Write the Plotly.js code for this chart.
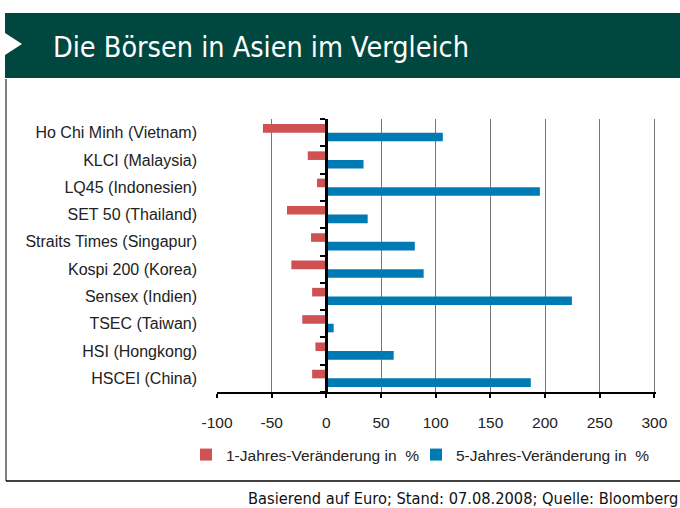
<!DOCTYPE html>
<html>
<head>
<meta charset="utf-8">
<script src="https://cdn.plot.ly/plotly-3.0.1.min.js"></script>
<style>html,body{margin:0;padding:0;background:#fff;}#chart{width:680px;height:508px;}</style>
</head>
<body>
<div id="chart"></div>
<script>
const categories = [
  "Ho Chi Minh (Vietnam)",
  "KLCI (Malaysia)",
  "LQ45 (Indonesien)",
  "SET 50 (Thailand)",
  "Straits Times (Singapur)",
  "Kospi 200 (Korea)",
  "Sensex (Indien)",
  "TSEC (Taiwan)",
  "HSI (Hongkong)",
  "HSCEI (China)"
];
const change1y = [-58, -17, -8.5, -36, -14, -32, -13, -22, -10, -13];
const change5y = [106.5, 34, 195.3, 37.8, 80.9, 89, 224.6, 6.7, 61.6, 187];
const seriesNames = ["1-Jahres-Veränderung in  %", "5-Jahres-Veränderung in  %"];
const xTicks = [-100, -50, 0, 50, 100, 150, 200, 250, 300];
const titleText = "Die Börsen in Asien im Vergleich";
const footerText = "Basierend auf Euro; Stand: 07.08.2008; Quelle: Bloomberg";

const W = 680, H = 508;
const M = {l: 217, r: 24, t: 119, b: 116};
const PW = W - M.l - M.r, PH = H - M.t - M.b;
const px = x => (x - M.l) / PW;
const py = y => (H - M.b - y) / PH;
const xRange = [-100, 301.5];
const zeroPos = (0 - xRange[0]) / (xRange[1] - xRange[0]);

const narrow = "Liberation Sans Narrow, DejaVu Sans Condensed, Arial Narrow, sans-serif";
const sans = "Liberation Sans, Arial, sans-serif";

const traces = [
  {type: "bar", orientation: "h", name: seriesNames[0], y: categories, x: change1y,
   marker: {color: "#cf5151"}, legend: "legend"},
  {type: "bar", orientation: "h", name: seriesNames[1], y: categories, x: change5y,
   marker: {color: "#007ab3"}, legend: "legend2"},
  {type: "scatter", x: [], y: [], yaxis: "y2", showlegend: false, hoverinfo: "skip"}
];

const boundaries = [];
for (let i = 0; i <= categories.length; i++) boundaries.push(i - 0.5);

const legendFont = {family: sans, size: 15.5, color: "#222"};

const layout = {
  width: W, height: H,
  margin: M,
  paper_bgcolor: "#fff", plot_bgcolor: "#fff",
  font: {family: sans, size: 15, color: "#222"},
  title: {text: titleText, font: {family: narrow, size: 28.5, color: "#fff"},
          xref: "container", yref: "container", x: 53 / W, xanchor: "left",
          y: 1 - 47 / H, yanchor: "middle"},
  barmode: "group", bargap: 0.37, bargroupgap: 0,
  xaxis: {range: xRange, tickvals: xTicks, ticktext: xTicks.map(String),
          showgrid: true, gridcolor: "#777", gridwidth: 1, zeroline: false,
          showline: true, linecolor: "#000", linewidth: 2,
          ticks: "outside", ticklen: 4, tickwidth: 2, tickcolor: "#000",
          ticklabelstandoff: 11, tickfont: {family: sans, size: 15.5, color: "#222"},
          fixedrange: true},
  yaxis: {type: "category", autorange: "reversed", showgrid: false, zeroline: false,
          showline: false, ticks: "", ticklabelstandoff: 19,
          tickfont: {family: sans, size: 16, color: "#222"}, fixedrange: true},
  yaxis2: {overlaying: "y", anchor: "free", position: zeroPos, side: "left",
           range: [categories.length - 0.5, -0.5], tickvals: boundaries,
           showticklabels: false, ticks: "outside", ticklen: 5, tickwidth: 2, tickcolor: "#000",
           showline: true, linecolor: "#000", linewidth: 3, showgrid: false, zeroline: false,
           fixedrange: true},
  legend: {orientation: "h", x: px(186), xanchor: "left", y: py(455), yanchor: "middle",
           font: legendFont, itemwidth: 30, bgcolor: "rgba(0,0,0,0)"},
  legend2: {orientation: "h", x: px(416), xanchor: "left", y: py(455), yanchor: "middle",
           font: legendFont, itemwidth: 30, bgcolor: "rgba(0,0,0,0)"},
  shapes: [
    {type: "rect", xref: "paper", yref: "paper", x0: px(5), x1: px(690), y0: py(13), y1: py(78),
     fillcolor: "#00483f", line: {width: 0}, layer: "below"},
    {type: "path", xref: "paper", yref: "paper",
     path: `M ${px(5)} ${py(33)} L ${px(22)} ${py(44)} L ${px(5)} ${py(55)} Z`,
     fillcolor: "#fff", line: {width: 0}},
    {type: "line", xref: "paper", yref: "paper", x0: px(6), x1: px(6), y0: py(79), y1: py(481),
     line: {color: "#555", width: 1.5}},
    {type: "line", xref: "paper", yref: "paper", x0: px(6), x1: px(690), y0: py(481), y1: py(481),
     line: {color: "#000", width: 1.5}}
  ],
  annotations: [
    {text: footerText, xref: "paper", yref: "paper", x: px(680), xanchor: "right",
     y: py(498), yanchor: "middle", showarrow: false,
     font: {family: narrow, size: 16.3, color: "#111"}}
  ],
  showlegend: true
};

Plotly.newPlot("chart", traces, layout, {displayModeBar: false, staticPlot: true});
</script>
</body>
</html>
